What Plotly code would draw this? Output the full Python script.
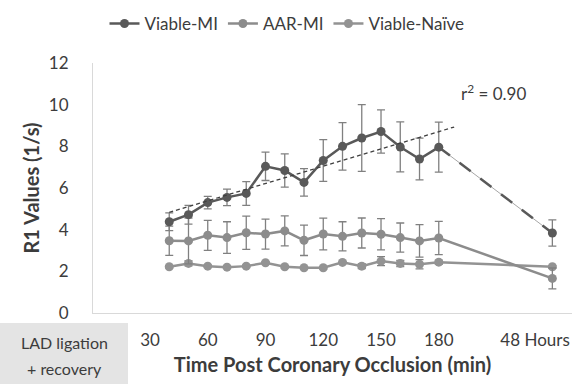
import plotly.graph_objects as go

# ---- data ----
time_min = [40, 50, 60, 70, 80, 90, 100, 110, 120, 130, 140, 150, 160, 170, 180]
pos_48h = 239  # axis position used for the 48 h time point

viable_mi = [4.38, 4.72, 5.30, 5.55, 5.74, 7.04, 6.84, 6.27, 7.32, 8.00, 8.40, 8.71, 7.97, 7.39, 7.96]
viable_mi_err = [0.43, 0.45, 0.30, 0.40, 0.57, 0.68, 0.80, 0.66, 1.00, 1.14, 1.60, 1.04, 1.20, 1.00, 1.20]
viable_mi_48h = 3.84
viable_mi_48h_err = 0.63

aar_mi = [3.47, 3.46, 3.73, 3.62, 3.85, 3.79, 3.94, 3.49, 3.79, 3.68, 3.84, 3.78, 3.62, 3.46, 3.60]
aar_mi_err = [0.70, 1.10, 0.72, 0.76, 0.80, 0.72, 0.72, 0.73, 0.76, 0.70, 0.72, 0.75, 0.70, 0.78, 0.80]
aar_mi_48h = 1.66
aar_mi_48h_err = 0.50

naive = [2.22, 2.38, 2.25, 2.20, 2.25, 2.41, 2.22, 2.17, 2.17, 2.43, 2.25, 2.49, 2.38, 2.34, 2.44]
naive_err = [0.05, 0.12, 0.05, 0.05, 0.05, 0.05, 0.05, 0.05, 0.05, 0.05, 0.12, 0.22, 0.15, 0.22, 0.10]
naive_48h = 2.22
naive_48h_err = 0.05

# trendline (linear fit of Viable-MI, 40-180 min) drawn between these times
trend_x = [40, 188]
trend_slope = 0.02766
trend_mean_x = 110
trend_mean_y = 6.77

tick_vals = [30, 60, 90, 120, 150, 180, 230]
tick_text = ["30", "60", "90", "120", "150", "180", "48 Hours"]

# ---- styles ----
FONT = "Lato"
TXT = "#3c3c3c"
DARK = "#595959"
GRAY = "#8c8c8c"
GRAY2 = "#939393"
ERR = "#808080"

fig = go.Figure()

# connector from 180 min to 48 h for Viable-MI (dashed)
fig.add_trace(go.Scatter(x=[time_min[-1], pos_48h], y=[viable_mi[-1], viable_mi_48h],
                         mode="lines", line=dict(color="#a6a6a6", width=1),
                         showlegend=False, hoverinfo="skip"))
fig.add_trace(go.Scatter(x=[time_min[-1], pos_48h], y=[viable_mi[-1], viable_mi_48h],
                         mode="lines", line=dict(color=DARK, width=2.5, dash="14px,12px"),
                         showlegend=False, hoverinfo="skip"))

# Viable-Naive
fig.add_trace(go.Scatter(x=time_min + [pos_48h], y=naive + [naive_48h],
                         mode="lines+markers", name="Viable-Naïve", legendrank=3,
                         line=dict(color=GRAY2, width=2.5),
                         marker=dict(color=GRAY2, size=9),
                         error_y=dict(type="data", array=naive_err + [naive_48h_err],
                                      color=ERR, thickness=1.3, width=4)))
# AAR-MI
fig.add_trace(go.Scatter(x=time_min + [pos_48h], y=aar_mi + [aar_mi_48h],
                         mode="lines+markers", name="AAR-MI", legendrank=2,
                         line=dict(color=GRAY, width=2.5),
                         marker=dict(color=GRAY, size=9),
                         error_y=dict(type="data", array=aar_mi_err + [aar_mi_48h_err],
                                      color=ERR, thickness=1.3, width=4)))
# Viable-MI
fig.add_trace(go.Scatter(x=time_min + [None, pos_48h], y=viable_mi + [None, viable_mi_48h],
                         mode="lines+markers", name="Viable-MI", legendrank=1,
                         connectgaps=False,
                         line=dict(color=DARK, width=2.5),
                         marker=dict(color=DARK, size=9),
                         error_y=dict(type="data", array=viable_mi_err + [None, viable_mi_48h_err],
                                      color=ERR, thickness=1.3, width=4)))
# trendline
trend_y = [trend_mean_y + trend_slope * (t - trend_mean_x) for t in trend_x]
fig.add_trace(go.Scatter(x=trend_x, y=trend_y, mode="lines",
                         line=dict(color="#404040", width=1.3, dash="4px,3px"),
                         showlegend=False, hoverinfo="skip"))

W, H = 587, 384
L, R, T, B = 93, 15, 63, 71
pw, ph = W - L - R, H - T - B

def px_x(p):
    return (p - L) / pw

def px_y(p):
    return (H - B - p) / ph

fig.update_layout(
    width=W, height=H,
    margin=dict(l=L, r=R, t=T, b=B, autoexpand=False),
    paper_bgcolor="white", plot_bgcolor="white",
    font=dict(family=FONT, color=TXT, size=16),
    showlegend=True,
    legend=dict(orientation="h", xref="container", yref="container",
                x=287 / W, y=1 - 24 / H, xanchor="center", yanchor="middle",
                font=dict(size=17, color=TXT), bgcolor="rgba(0,0,0,0)",
                itemwidth=30, tracegroupgap=0),
    xaxis=dict(range=[0.4, 249.2], showgrid=False, zeroline=False, automargin=False,
               showline=True, linecolor="#d9d9d9", linewidth=1,
               tickvals=tick_vals, ticktext=tick_text, ticks="",
               tickfont=dict(size=17, color=TXT), ticklabelstandoff=12,
               title=dict(text="<b>Time Post Coronary Occlusion (min)</b>",
                          font=dict(size=20, color=TXT), standoff=8)),
    yaxis=dict(range=[0, 12], dtick=2, showgrid=False, zeroline=False, automargin=False,
               showline=True, linecolor="#d9d9d9", linewidth=1, ticks="",
               tickfont=dict(size=17, color=TXT), ticklabelstandoff=20,
               title=dict(text="<b>R1 Values (1/s)</b>",
                          font=dict(size=20, color=TXT), standoff=3)),
    shapes=[dict(type="rect", xref="paper", yref="paper",
                 x0=px_x(0), x1=px_x(128), y0=px_y(384), y1=px_y(323),
                 fillcolor="#e4e4e4", line=dict(width=0), layer="below")],
    annotations=[
        dict(text="LAD ligation", xref="paper", yref="paper",
             x=px_x(64), y=px_y(342), xanchor="center", yanchor="middle",
             showarrow=False, font=dict(size=16, color=TXT)),
        dict(text="+ recovery", xref="paper", yref="paper",
             x=px_x(64), y=px_y(368), xanchor="center", yanchor="middle",
             showarrow=False, font=dict(size=16, color=TXT)),
        dict(text="r<sup>2</sup> = 0.90", xref="paper", yref="paper",
             x=px_x(493), y=px_y(92), xanchor="center", yanchor="middle",
             showarrow=False, font=dict(size=17, color=TXT)),
    ],
)

fig.write_html("out.html", config={"displayModeBar": False},
               post_script="document.body.style.margin='0';")
